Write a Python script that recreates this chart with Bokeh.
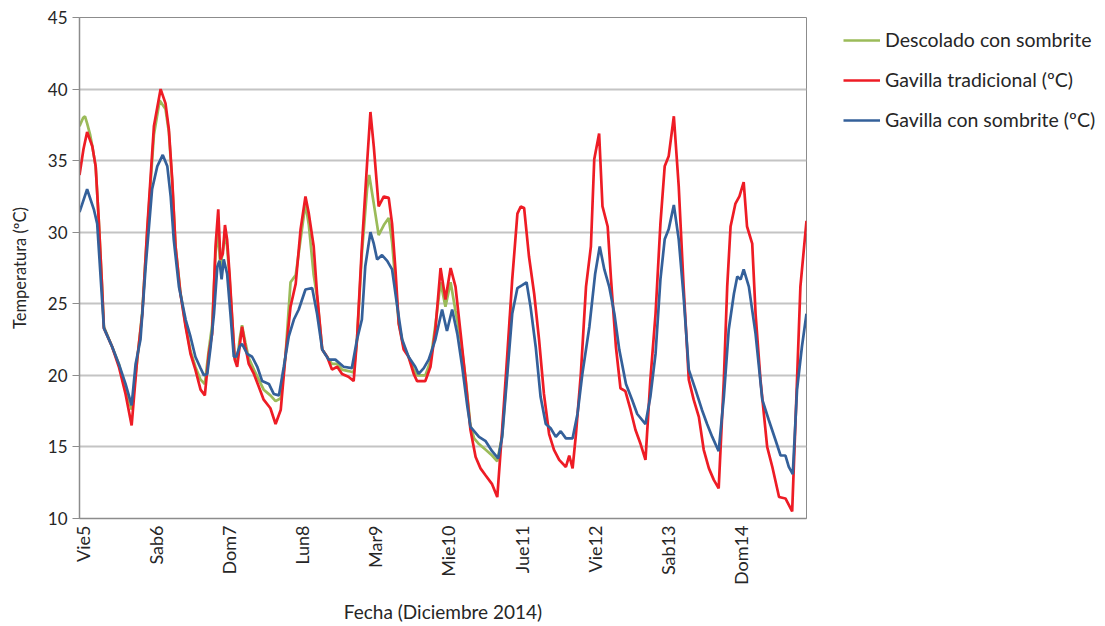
import math
from bokeh.plotting import figure
from bokeh.models import Range1d, FixedTicker, Legend, LegendItem
from bokeh.embed import file_html
from bokeh.resources import INLINE

# ---------------- data (hours from start of Vie5, temperature in ºC) ----------------
day_labels = ["Vie5", "Sab6", "Dom7", "Lun8", "Mar9", "Mie10", "Jue11", "Vie12", "Sab13", "Dom14"]
day_hours = [0, 24, 48, 72, 96, 120, 144, 168, 192, 216]
y_ticks = [10, 15, 20, 25, 30, 35, 40, 45]

green_hours = [-1.0, 0.2, 0.8, 1.5, 2.5, 3.2, 4.3, 5.3, 6.4, 7.0, 9.7, 11.9, 14.1, 16.1, 17.9, 19.6,
               21.2, 23.4, 25.3, 27.2, 28.3, 29.4, 30.5, 32.1, 33.8, 35.4, 37.0, 38.7, 40.1, 41.4,
               42.5, 43.6, 44.5, 45.2, 46.7, 47.4, 48.2, 49.1, 49.9, 50.7, 51.5, 52.3, 53.4, 54.5,
               56.2, 57.8, 59.4, 61.6, 63.3, 65.0, 66.6, 68.2, 69.9, 71.5, 73.1, 74.2, 75.8, 76.9,
               78.6, 80.2, 81.8, 83.5, 85.1, 87.2, 88.9, 90.0, 91.6, 93.3, 94.0, 95.5, 97.1, 98.8,
               100.4, 101.5, 102.6, 103.7, 105.3, 106.9, 108.6, 109.7, 112.4, 114.1, 115.7, 117.4,
               119.0, 120.7, 122.3, 124.0, 125.6, 127.2, 128.4, 130.0, 132.2, 134.3, 136.0, 137.6,
               139.3, 140.5]
green_temp = [37.4, 38.0, 38.1, 37.6, 36.8, 36.0, 34.6, 30.9, 26.2, 23.4, 22.0, 20.8, 19.0, 17.6, 21.0, 24.5,
              30.0, 36.8, 39.2, 38.6, 37.0, 33.5, 29.0, 25.8, 23.5, 21.7, 20.6, 19.7, 19.4, 21.8,
              23.5, 28.5, 30.0, 27.5, 29.8, 29.0, 26.8, 23.8, 21.2, 21.0, 22.5, 23.5, 22.3, 21.2,
              20.4, 19.7, 19.0, 18.6, 18.2, 18.4, 21.5, 26.5, 27.0, 29.5, 32.0, 30.5, 27.0, 25.5,
              21.8, 21.3, 20.8, 20.8, 20.4, 20.3, 20.2, 22.5, 28.5, 33.0, 34.0, 32.0, 29.8, 30.5,
              31.0, 29.3, 26.5, 23.6, 22.0, 21.3, 20.4, 20.0, 20.0, 21.0, 23.5, 26.5,
              24.8, 26.5, 24.5, 22.5, 19.8, 16.5, 15.6, 15.2, 14.8, 14.4, 14.0, 15.8,
              20.5, 25.0]

red_hours = [-1.0, 0.3, 1.5, 3.2, 4.3, 5.3, 6.4, 7.0, 9.7, 11.9, 14.1, 16.1, 17.9, 19.6, 21.2, 23.4,
             25.6, 27.2, 28.3, 29.4, 30.5, 32.1, 33.8, 35.4, 37.0, 38.7, 40.1, 41.4, 42.5, 43.6,
             44.5, 45.2, 46.0, 46.7, 47.4, 48.2, 49.1, 49.9, 50.7, 51.5, 52.3, 53.4, 54.5, 56.2,
             57.8, 59.4, 61.6, 63.3, 65.0, 66.6, 68.2, 69.9, 71.5, 73.1, 74.2, 75.8, 76.9, 78.6,
             80.2, 81.8, 83.5, 85.1, 87.2, 88.9, 90.0, 91.6, 93.3, 94.4, 95.5, 97.1, 98.8, 100.4,
             101.5, 102.6, 103.7, 105.3, 106.9, 108.6, 109.7, 112.4, 114.1, 115.7, 117.4, 119.0,
             120.7, 122.3, 124.0, 125.6, 127.2, 128.9, 130.5, 132.2, 134.3, 136.0, 137.6, 139.3,
             140.9, 142.6, 143.7, 144.8, 146.4, 148.1, 149.7, 151.3, 153.0, 154.6, 156.3, 158.5,
             159.6, 160.7, 161.8, 163.4, 165.1, 166.7, 167.8, 169.4, 170.5, 172.2, 173.3, 174.9,
             176.4, 178.0, 179.7, 181.3, 183.0, 184.6, 186.2, 187.9, 189.5, 190.9, 192.2, 193.9,
             195.5, 197.1, 198.8, 200.4, 202.1, 203.7, 205.4, 207.0, 208.6, 210.3, 211.4, 212.5,
             214.1, 215.4, 216.8, 217.9, 219.6, 220.7, 222.3, 224.5, 226.2, 228.4, 230.5, 232.7,
             234.3, 235.4, 237.4]
red_temp = [34.0, 35.8, 37.0, 36.0, 34.6, 30.9, 26.2, 23.3, 22.0, 20.6, 18.7, 16.5, 21.1, 24.3, 30.2, 37.4,
            40.0, 39.0, 37.2, 33.7, 29.0, 25.7, 23.4, 21.5, 20.4, 19.0, 18.6, 21.5, 22.9, 29.0,
            31.6, 28.1, 28.5, 30.5, 29.5, 27.1, 23.9, 21.1, 20.6, 22.0, 23.4, 22.0, 20.8, 20.1,
            19.2, 18.3, 17.7, 16.6, 17.6, 21.5, 24.8, 26.4, 30.2, 32.5, 31.3, 29.0, 25.7, 21.8,
            21.3, 20.4, 20.6, 20.1, 19.9, 19.6, 22.5, 29.0, 34.8, 38.4, 36.0, 31.8, 32.5, 32.4,
            30.6, 27.4, 23.6, 21.8, 21.3, 20.1, 19.6, 19.6, 20.6, 23.2, 27.5, 25.3,
            27.5, 26.2, 22.9, 19.7, 16.2, 14.3, 13.5, 13.0, 12.4, 11.5, 16.2, 21.5,
            26.7, 31.3, 31.8, 31.7, 28.3, 25.7, 22.5, 18.7, 15.9, 14.8, 14.1, 13.6,
            14.4, 13.5, 15.9, 20.1, 26.2, 29.0, 35.1, 36.9, 31.8, 30.4, 26.7, 22.0,
            19.1, 18.9, 17.6, 16.2, 15.2, 14.1, 19.7, 24.3, 30.6, 34.6, 35.3, 38.1,
            33.2, 26.2, 19.7, 18.3, 17.1, 14.8, 13.5, 12.7, 12.1, 19.7, 26.2, 30.4,
            32.0, 32.5, 33.5, 30.4, 29.2, 24.3, 19.7, 15.0, 13.6, 11.5, 11.4, 10.5,
            19.7, 26.2, 30.8]

blue_hours = [-1.0, 1.5, 3.7, 4.8, 7.0, 9.7, 11.9, 14.1, 16.1, 17.4, 19.0, 20.7, 22.8, 24.5, 26.3, 27.8,
              28.9, 29.9, 31.6, 33.8, 35.4, 37.0, 38.7, 39.8, 40.9, 42.0, 43.1, 44.2, 44.9, 45.6,
              46.3, 47.4, 48.5, 49.6, 50.4, 51.5, 52.3, 54.0, 55.6, 57.3, 58.9, 61.1, 62.7, 64.4,
              66.0, 67.6, 69.3, 70.9, 73.1, 75.3, 76.9, 78.6, 80.7, 82.9, 85.6, 88.3, 90.0, 91.6,
              92.7, 94.4, 95.5, 96.6, 98.2, 99.9, 101.5, 103.2, 104.8, 106.9, 109.1, 110.2, 111.9,
              113.5, 115.7, 117.9, 119.5, 121.2, 122.9, 124.5, 126.2, 127.2, 128.4, 130.0, 132.2,
              134.3, 136.3, 137.6, 139.3, 140.9, 142.6, 144.2, 145.6, 146.9, 148.6, 150.2, 151.9,
              153.5, 155.2, 156.8, 158.5, 160.7, 162.3, 163.9, 166.2, 168.1, 169.6, 171.1, 172.7,
              174.4, 176.0, 178.2, 180.2, 181.9, 184.6, 186.2, 187.9, 189.5, 190.9, 192.2, 193.9,
              195.5, 197.1, 198.8, 201.0, 203.1, 204.8, 206.5, 208.6, 210.3, 211.9, 213.6, 214.7,
              215.8, 216.8, 218.5, 220.7, 222.9, 225.0, 227.2, 228.9, 230.5, 231.6, 232.9, 234.3,
              235.9, 237.4]
blue_temp = [31.4, 33.0, 31.6, 30.6, 23.3, 22.0, 20.8, 19.4, 17.9, 20.8, 22.5, 27.6, 33.0, 34.6, 35.4, 34.6,
             32.5, 29.5, 26.2, 23.9, 22.7, 21.3, 20.5, 20.0, 20.1, 22.0, 24.3, 27.6, 28.0, 26.7,
             28.1, 27.1, 24.3, 21.3, 21.3, 22.0, 22.2, 21.5, 21.3, 20.6, 19.6, 19.4, 18.7, 18.6,
             20.6, 22.7, 23.9, 24.6, 26.0, 26.1, 24.3, 21.8, 21.1, 21.1, 20.6, 20.5, 22.5, 23.9,
             27.6, 30.0, 29.2, 28.1, 28.4, 28.0, 27.4, 24.8, 22.5, 21.3, 20.6, 20.1, 20.5,
             21.1, 22.5, 24.6, 23.1, 24.6, 22.9, 20.6, 17.8, 16.4, 16.1, 15.7, 15.4,
             14.7, 14.2, 15.7, 20.1, 24.3, 26.1, 26.3, 26.5, 24.8, 22.0, 18.5, 16.6,
             16.3, 15.7, 16.1, 15.6, 15.6, 17.3, 20.1, 23.4, 27.1, 29.0, 27.4, 26.2,
             24.3, 21.8, 19.4, 18.3, 17.3, 16.6, 18.5, 21.5, 26.7, 29.5, 30.2, 31.9,
             29.5, 25.5, 20.4, 19.0, 17.6, 16.6, 15.7, 14.7, 18.5, 23.2, 25.7, 26.9,
             26.7, 27.4, 26.2, 22.9, 18.3, 16.9, 15.5, 14.4, 14.4, 13.6, 13.1, 19.0,
             22.0, 24.3]

series_names = ["Descolado con sombrite", "Gavilla tradicional (ºC)", "Gavilla con sombrite (ºC)"]
series_colors = ["#9bbb59", "#ee1c25", "#34609a"]

# ---------------- figure ----------------
FONT = "Lato"
TXT = "#262626"
AX = "#8c8c8c"

p = figure(frame_width=727, frame_height=501,
           min_border_left=79, min_border_top=17, min_border_bottom=106, min_border_right=294,
           x_range=Range1d(-1.0, 237.4), y_range=Range1d(10, 45),
           output_backend="svg", toolbar_location=None)

p.outline_line_color = AX
p.outline_line_width = 1
p.background_fill_color = "white"
p.border_fill_color = "white"

p.xgrid.grid_line_color = None
p.ygrid.grid_line_color = "#c4c4c4"
p.ygrid.grid_line_width = 2

p.yaxis.ticker = FixedTicker(ticks=y_ticks)
p.yaxis.axis_line_color = AX
p.yaxis.axis_line_width = 1.5
p.yaxis.major_tick_line_color = AX
p.yaxis.major_tick_out = 7
p.yaxis.major_tick_in = 0
p.yaxis.minor_tick_line_color = None
p.yaxis.major_label_text_font = FONT
p.yaxis.major_label_text_font_size = "17px"
p.yaxis.major_label_text_color = TXT
p.yaxis.major_label_standoff = 5
p.yaxis.axis_label = "Temperatura (ºC)"
p.yaxis.axis_label_text_font = FONT
p.yaxis.axis_label_text_font_size = "16.5px"
p.yaxis.axis_label_text_font_style = "normal"
p.yaxis.axis_label_text_color = TXT
p.yaxis.axis_label_standoff = 15

p.xaxis.ticker = FixedTicker(ticks=day_hours)
p.xaxis.major_label_overrides = {h: lab for h, lab in zip(day_hours, day_labels)}
p.xaxis.major_label_orientation = math.pi / 2
p.xaxis.axis_line_color = AX
p.xaxis.axis_line_width = 1.5
p.xaxis.major_tick_out = 0
p.xaxis.major_tick_in = 0
p.xaxis.minor_tick_line_color = None
p.xaxis.major_label_text_font = FONT
p.xaxis.major_label_text_font_size = "18px"
p.xaxis.major_label_text_color = TXT
p.xaxis.major_label_standoff = 7
p.xaxis.axis_label = "Fecha (Diciembre 2014)"
p.xaxis.axis_label_text_font = FONT
p.xaxis.axis_label_text_font_size = "19px"
p.xaxis.axis_label_text_font_style = "normal"
p.xaxis.axis_label_text_color = TXT
p.xaxis.axis_label_standoff = 12

r_green = p.line(green_hours, green_temp, line_color=series_colors[0], line_width=2.7)
r_red = p.line(red_hours, red_temp, line_color=series_colors[1], line_width=2.7)
r_blue = p.line(blue_hours, blue_temp, line_color=series_colors[2], line_width=2.7)

legend = Legend(items=[LegendItem(label=series_names[0], renderers=[r_green]),
                       LegendItem(label=series_names[1], renderers=[r_red]),
                       LegendItem(label=series_names[2], renderers=[r_blue])],
                location=(37, 387))
legend.padding = 0
legend.margin = 0
legend.spacing = 17
legend.glyph_width = 37
legend.glyph_height = 20
legend.label_height = 20
legend.label_standoff = 5
legend.label_text_font = FONT
legend.label_text_font_size = "19.5px"
legend.label_text_color = TXT
legend.border_line_color = None
legend.background_fill_alpha = 0
p.add_layout(legend, "right")

open("out.html", "w").write(file_html(p, INLINE))
